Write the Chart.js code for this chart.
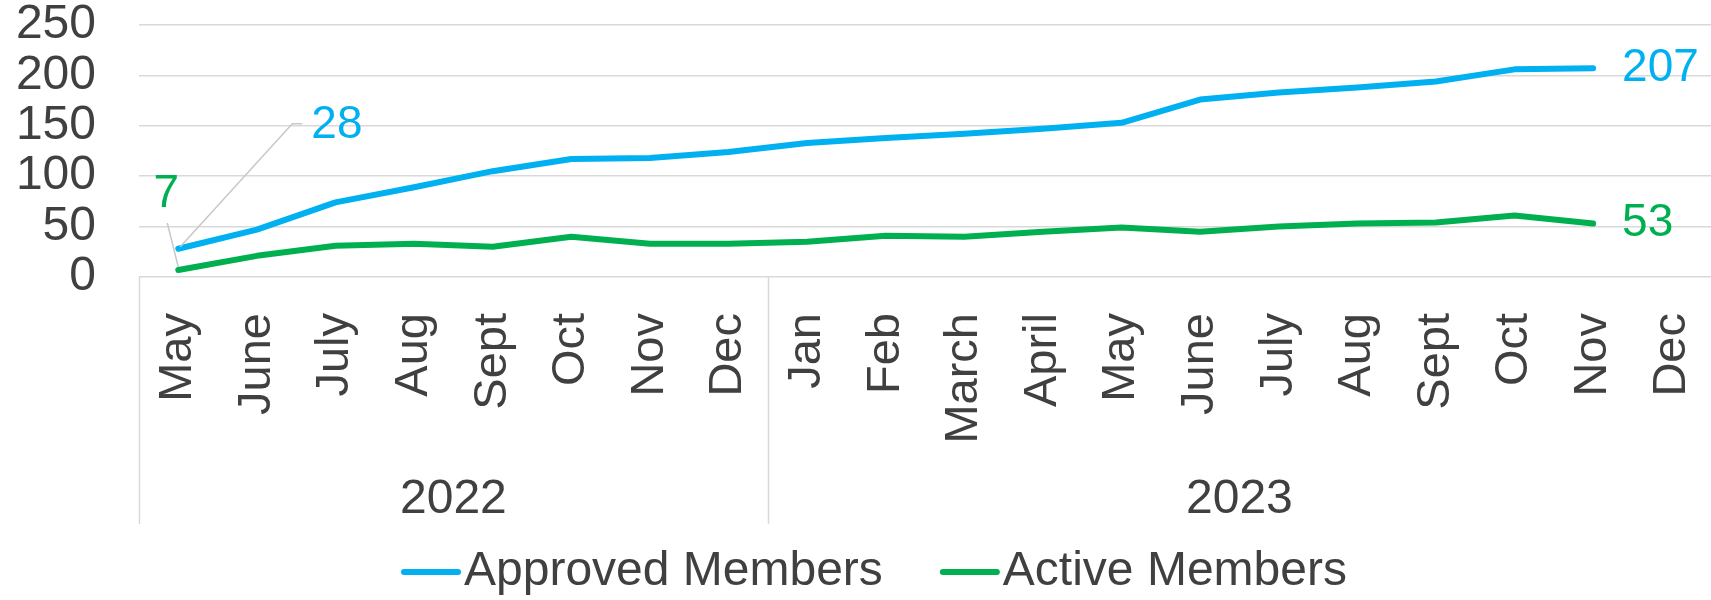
<!DOCTYPE html>
<html>
<head>
<meta charset="utf-8">
<script src="https://cdn.jsdelivr.net/npm/chart.js@4.4.1/dist/chart.umd.min.js"></script>
<style>
    html, body { margin: 0; padding: 0; background: #fff; }
    #wrap { width: 1711px; height: 600px; }
</style>
</head>
<body>
<div id="wrap"><canvas id="chart"></canvas></div>
<script>
// Data
const months = ['May', 'June', 'July', 'Aug', 'Sept', 'Oct', 'Nov', 'Dec',
    'Jan', 'Feb', 'March', 'April', 'May', 'June', 'July', 'Aug', 'Sept', 'Oct', 'Nov', 'Dec'];
const years = ['2022', '2023'];
const yearStarts = [0, 8];
const approved = [28, 47, 74, 89, 105, 117, 118, 124, 133, 138, 142, 147, 153, 176, 183, 188, 194, 206, 207, null];
const active = [7, 21, 31, 33, 30, 40, 33, 33, 35, 41, 40, 45, 49, 45, 50, 53, 54, 61, 53, null];
const yMin = 0, yMax = 250, yStep = 50;

const FONT = '"Liberation Sans", Arial, sans-serif';
const TEXT = '#404040';
const GRID = '#D9D9D9';
const BLUE = '#00B0F0';
const GREEN = '#00B050';

// Year row under the month labels + separators
const groupAxis = {
    id: 'groupAxis',
    afterDraw(chart) {
        const ctx = chart.ctx, x = chart.scales.x, area = chart.chartArea;
        const step = x.getPixelForValue(1) - x.getPixelForValue(0);
        ctx.save();
        ctx.strokeStyle = GRID;
        ctx.lineWidth = 1.5;
        ctx.fillStyle = TEXT;
        ctx.font = '48px ' + FONT;
        ctx.textAlign = 'center';
        ctx.textBaseline = 'middle';
        yearStarts.forEach((s, i) => {
            const end = i + 1 < yearStarts.length ? yearStarts[i + 1] : months.length;
            const left = x.getPixelForValue(s) - step / 2;
            const right = x.getPixelForValue(end - 1) + step / 2;
            ctx.beginPath();
            ctx.moveTo(Math.round(left) + 0.5, area.bottom);
            ctx.lineTo(Math.round(left) + 0.5, 524);
            ctx.stroke();
            ctx.fillText(years[i], (left + right) / 2, 500);
        });
        ctx.restore();
    }
};

// Value labels for the first and last points, with leader lines
const callouts = [
    { ds: 0, idx: 0, dx: 133, dy: -123, align: 'left', leader: [[2, -2], [114, -125], [124, -125]] },
    { ds: 1, idx: 0, dx: -12, dy: -76, align: 'center', leader: [[0, -3], [-11, -47]] },
    { ds: 0, idx: 18, dx: 29, dy: 0, align: 'left' },
    { ds: 1, idx: 18, dx: 29, dy: 0, align: 'left' }
];
const valueLabels = {
    id: 'valueLabels',
    afterDatasetsDraw(chart) {
        const ctx = chart.ctx;
        ctx.save();
        ctx.font = '46px ' + FONT;
        ctx.textBaseline = 'middle';
        callouts.forEach(c => {
            const ds = chart.data.datasets[c.ds];
            const pt = chart.getDatasetMeta(c.ds).data[c.idx];
            if (c.leader) {
                ctx.strokeStyle = '#C8C8C8';
                ctx.lineWidth = 1.5;
                ctx.beginPath();
                c.leader.forEach(([lx, ly], k) => {
                    if (k === 0) ctx.moveTo(pt.x + lx, pt.y + ly);
                    else ctx.lineTo(pt.x + lx, pt.y + ly);
                });
                ctx.stroke();
            }
            ctx.fillStyle = ds.borderColor;
            ctx.textAlign = c.align;
            ctx.fillText(String(ds.data[c.idx]), pt.x + c.dx, pt.y + c.dy);
        });
        ctx.restore();
    }
};

// Legend drawn in the Excel style (short thick line, tight gap)
const bottomLegend = {
    id: 'bottomLegend',
    afterDraw(chart) {
        const ctx = chart.ctx;
        const y = 572;
        let x = 404;
        ctx.save();
        ctx.font = '48px ' + FONT;
        ctx.textAlign = 'left';
        ctx.textBaseline = 'middle';
        chart.data.datasets.forEach(ds => {
            ctx.strokeStyle = ds.borderColor;
            ctx.lineWidth = 6;
            ctx.lineCap = 'round';
            ctx.beginPath();
            ctx.moveTo(x, y);
            ctx.lineTo(x + 54, y);
            ctx.stroke();
            ctx.fillStyle = TEXT;
            ctx.fillText(ds.label, x + 60, y);
            x += 60 + ctx.measureText(ds.label).width + 60;
        });
        ctx.restore();
    }
};

new Chart(document.getElementById('chart'), {
    type: 'line',
    data: {
        labels: months,
        datasets: [
            {
                label: 'Approved Members',
                data: approved,
                borderColor: BLUE,
                backgroundColor: BLUE,
                borderWidth: 6,
                borderCapStyle: 'round',
                borderJoinStyle: 'round',
                pointRadius: 0,
                tension: 0
            },
            {
                label: 'Active Members',
                data: active,
                borderColor: GREEN,
                backgroundColor: GREEN,
                borderWidth: 6,
                borderCapStyle: 'round',
                borderJoinStyle: 'round',
                pointRadius: 0,
                tension: 0
            }
        ]
    },
    options: {
        responsive: true,
        maintainAspectRatio: false,
        animation: false,
        layout: { padding: { top: 25, right: 0, bottom: 0, left: 0 } },
        plugins: {
            legend: { display: false },
            tooltip: { enabled: false }
        },
        scales: {
            x: {
                offset: true,
                grid: { display: false },
                border: { display: false },
                ticks: {
                    color: TEXT,
                    font: { family: FONT, size: 47 },
                    maxRotation: 90,
                    minRotation: 90,
                    autoSkip: false,
                    padding: 28
                },
                afterFit(scale) {
                    scale.height = 323;
                    scale.paddingLeft = 0;
                    scale.paddingRight = 0;
                }
            },
            y: {
                min: yMin,
                max: yMax,
                grid: { color: GRID, lineWidth: 1.5, drawTicks: false },
                border: { display: false },
                ticks: {
                    stepSize: yStep,
                    autoSkip: false,
                    color: TEXT,
                    font: { family: FONT, size: 48 },
                    padding: 43
                },
                afterFit(scale) {
                    scale.width = 139;
                    scale.paddingTop = 0;
                    scale.paddingBottom = 0;
                }
            }
        }
    },
    plugins: [groupAxis, valueLabels, bottomLegend]
});
</script>
</body>
</html>
